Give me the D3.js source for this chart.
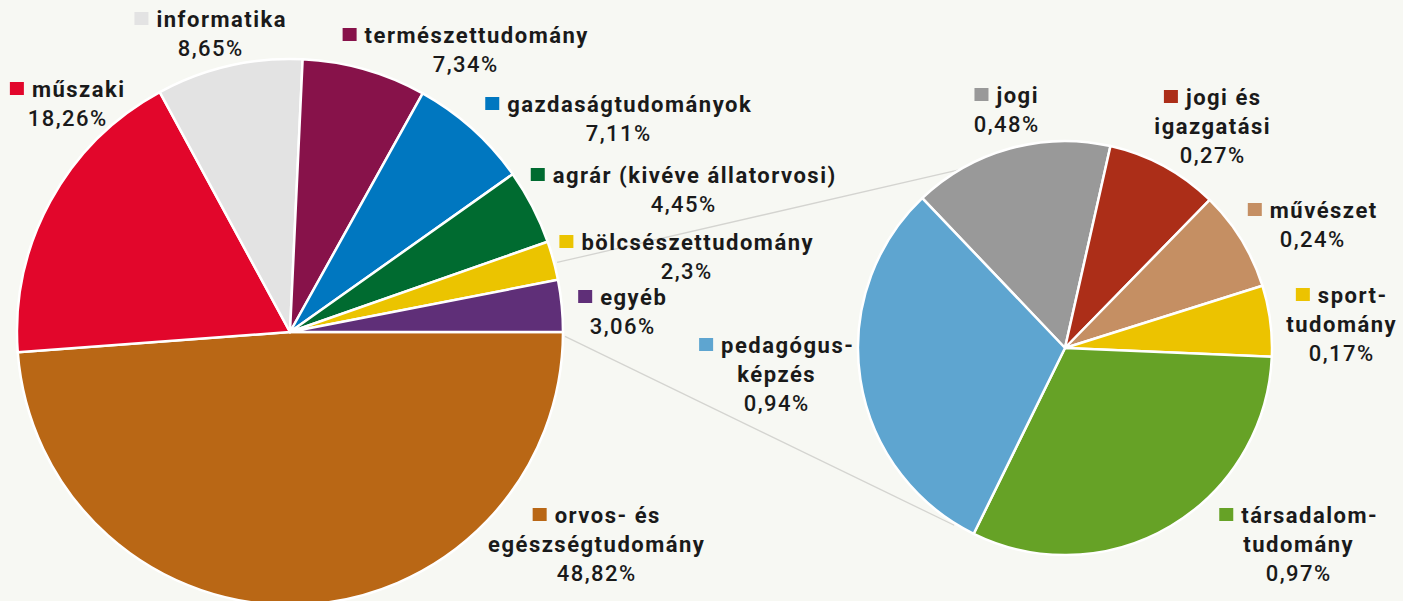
<!DOCTYPE html>
<html>
<head>
<meta charset="utf-8">
<script src="https://cdn.jsdelivr.net/npm/d3@7"></script>
<style>
  body { margin: 0; background: #f7f8f3; }
  svg text { font-family: Roboto, "Noto Sans", sans-serif; fill: #1a1a1a; letter-spacing: 1.5px; }
</style>
</head>
<body>
<div class="chart"></div>
<script>
// main pie
var mainNames = [
  ["orvos- és", "egészségtudomány"], ["műszaki"], ["informatika"], ["természettudomány"],
  ["gazdaságtudományok"], ["agrár (kivéve állatorvosi)"], ["bölcsészettudomány"], ["egyéb"]
];
var mainValues = [48.82, 18.26, 8.65, 7.34, 7.11, 4.45, 2.3, 3.06];
var mainColors = ["#b96715", "#e2062b", "#e3e3e3", "#87124a", "#0077c0", "#006b30", "#ebc400", "#5f2f78"];

// sub pie (egyéb breakdown)
var subNames = [
  ["jogi"], ["jogi és", "igazgatási"], ["művészet"], ["sport-", "tudomány"],
  ["társadalom-", "tudomány"], ["pedagógus-", "képzés"]
];
var subValues = [0.48, 0.27, 0.24, 0.17, 0.97, 0.94];
var subColors = ["#999999", "#ac2e18", "#c58f63", "#ecc300", "#66a226", "#5ea5d0"];

// label anchors: block centre x, first baseline y
var mainLabelPos = [[596, 523], [67, 97], [210, 27], [465, 43], [618, 112], [683, 183], [686, 250], [622, 305]];
var subLabelPos = [[1006, 103], [1212, 105], [1312, 218], [1341, 303], [1298, 523], [776, 353]];

var width = 1403, height = 601;
var fmt = function(v) { return String(v).replace(".", ",") + "%"; };

var svg = d3.select(".chart").append("svg")
  .attr("width", width)
  .attr("height", height);

var main = { cx: 290, cy: 332, r: 273 };
var sub = { cx: 1065, cy: 348, r: 207 };

function pt(c, ang, r) {
  return [c.cx + r * Math.sin(ang), c.cy - r * Math.cos(ang)];
}

// connector lines (egyéb -> sub pie)
var deg = Math.PI / 180;
var links = [[pt(main, 75.4 * deg, 276), pt(sub, -30.5 * deg, sub.r)],
             [pt(main, 90.9 * deg, 275), pt(sub, 212 * deg, sub.r + 2)]];
svg.selectAll("line.link").data(links).enter().append("line")
  .attr("class", "link")
  .attr("x1", function(d) { return d[0][0]; })
  .attr("y1", function(d) { return d[0][1]; })
  .attr("x2", function(d) { return d[1][0]; })
  .attr("y2", function(d) { return d[1][1]; })
  .attr("stroke", "#d4d4d0")
  .attr("stroke-width", 1.3);

function drawPie(c, values, colors, startDeg) {
  var pie = d3.pie().sort(null)
    .startAngle(startDeg * deg)
    .endAngle(startDeg * deg + 2 * Math.PI);
  var arc = d3.arc().innerRadius(0).outerRadius(c.r);
  var g = svg.append("g").attr("transform", "translate(" + c.cx + "," + c.cy + ")");
  g.selectAll("path").data(pie(values)).enter().append("path")
    .attr("d", arc)
    .attr("fill", function(d, i) { return colors[i]; })
    .attr("stroke", "#ffffff")
    .attr("stroke-width", 2.5)
    .attr("stroke-linejoin", "round");
}

drawPie(main, mainValues, mainColors, 90);
drawPie(sub, subValues, subColors, -43.6);

function drawLabels(names, values, colors, pos) {
  names.forEach(function(lines, i) {
    var cx = pos[i][0], y0 = pos[i][1];
    var g = svg.append("g");
    var all = lines.concat([fmt(values[i])]);
    all.forEach(function(t, k) {
      var txt = g.append("text")
        .attr("y", y0 + k * 29)
        .attr("font-size", "22px")
        .attr("font-weight", k < lines.length ? 700 : 500)
        .text(t);
      var w = txt.node().getComputedTextLength() - 1.5;
      if (k === 0) {
        var total = 14 + 8 + w;
        var left = cx - total / 2;
        g.append("rect")
          .attr("x", left)
          .attr("y", y0 - 15)
          .attr("width", 14)
          .attr("height", 13)
          .attr("fill", colors[i]);
        txt.attr("x", left + 22);
      } else {
        txt.attr("x", cx - w / 2);
      }
    });
  });
}

drawLabels(mainNames, mainValues, mainColors, mainLabelPos);
drawLabels(subNames, subValues, subColors, subLabelPos);
</script>
</body>
</html>
